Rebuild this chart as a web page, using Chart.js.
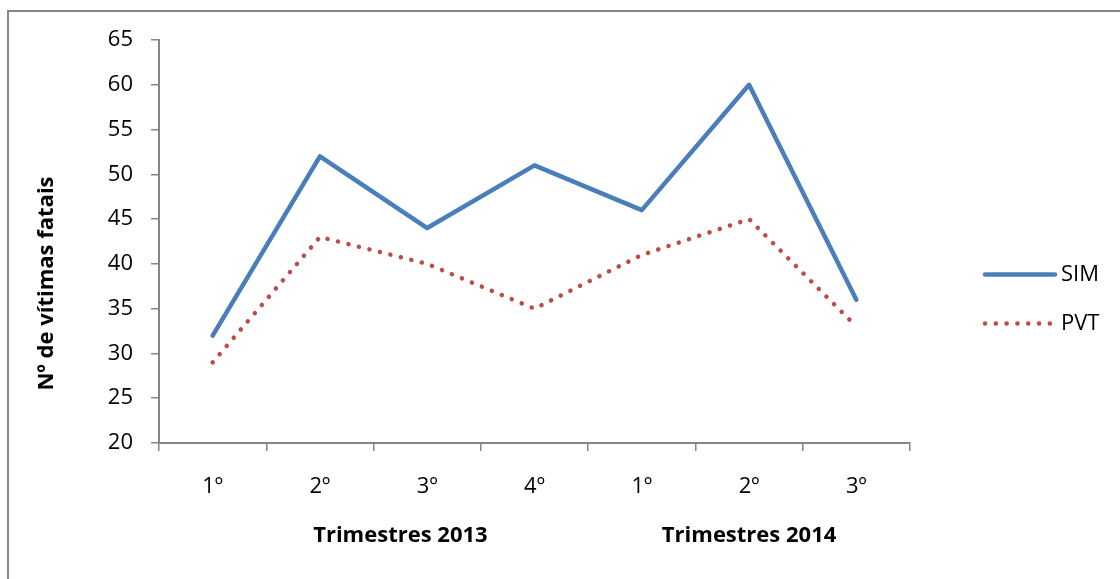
<!DOCTYPE html>
<html>
<head>
<meta charset="utf-8">
<script src="https://cdn.jsdelivr.net/npm/chart.js@4"></script>
<style>
    html, body { margin: 0; padding: 0; background: #fff; overflow: hidden; }
    #wrap { position: relative; width: 1120px; height: 579px; }
    #frame {
        position: absolute; left: 7px; top: 10px; right: -10px; bottom: -10px;
        border-top: 2px solid #868686; border-left: 2px solid #868686;
        pointer-events: none;
    }
</style>
</head>
<body>
<div id="wrap">
    <canvas id="chart"></canvas>
    <div id="frame"></div>
</div>
<script>
const quarters = ["1º", "2º", "3º", "4º", "1º", "2º", "3º"];
const simValues = [32, 52, 44, 51, 46, 60, 36];
const pvtValues = [29, 43, 40, 35, 41, 45, 33];
const groupLabels = ["Trimestres 2013", "Trimestres 2014"];
const groupCenters = [1.75, 5]; // position on the category axis
const yTitle = "Nº de vítimas fatais";

const fontFamily = "'Open Sans', sans-serif";
const fontSize = 22;
const axisGray = "#868686";

// second row of category labels under the quarters
const groupLabelPlugin = {
    id: "groupLabels",
    afterDraw(chart) {
        const ctx = chart.ctx;
        const x = chart.scales.x;
        ctx.save();
        ctx.font = "bold " + fontSize + "px " + fontFamily;
        ctx.fillStyle = "#000";
        ctx.textAlign = "center";
        ctx.textBaseline = "middle";
        groupLabels.forEach((label, i) => {
            ctx.fillText(label, x.getPixelForValue(groupCenters[i]), x.bottom - 43);
        });
        ctx.restore();
    },
};

// y axis title, sits a bit below the middle like the original
const yTitlePlugin = {
    id: "yTitle",
    afterDraw(chart) {
        const ctx = chart.ctx;
        const area = chart.chartArea;
        ctx.save();
        ctx.translate(47, (area.top + area.bottom) / 2 + 42);
        ctx.rotate(-Math.PI / 2);
        ctx.font = "bold " + fontSize + "px " + fontFamily;
        ctx.fillStyle = "#000";
        ctx.textAlign = "center";
        ctx.textBaseline = "middle";
        ctx.fillText(yTitle, 0, 0);
        ctx.restore();
    },
};

// legend on the right, drawn from the datasets
const sideLegendPlugin = {
    id: "sideLegend",
    afterDraw(chart) {
        const ctx = chart.ctx;
        const area = chart.chartArea;
        const midY = (area.top + area.bottom) / 2;
        const x0 = area.right + 75;
        ctx.save();
        chart.data.datasets.forEach((ds, i) => {
            const y = midY + 33 + i * 49;
            ctx.strokeStyle = ds.borderColor;
            ctx.lineWidth = ds.borderWidth;
            ctx.lineCap = ds.borderCapStyle || "butt";
            ctx.setLineDash(ds.borderDash || []);
            ctx.beginPath();
            ctx.moveTo(x0, y);
            ctx.lineTo(x0 + 70, y);
            ctx.stroke();
            ctx.setLineDash([]);
            ctx.fillStyle = "#000";
            ctx.font = fontSize + "px " + fontFamily;
            ctx.textAlign = "left";
            ctx.textBaseline = "middle";
            ctx.fillText(ds.label, x0 + 76, y);
        });
        ctx.restore();
    },
};

const data = {
    labels: quarters,
    datasets: [
        {
            label: "SIM",
            data: simValues,
            borderColor: "#4a7ebb",
            borderWidth: 4.5,
            borderCapStyle: "round",
            borderJoinStyle: "round",
            pointRadius: 0,
            tension: 0,
        },
        {
            label: "PVT",
            data: pvtValues,
            borderColor: "#be4b48",
            borderWidth: 4.5,
            borderCapStyle: "round",
            borderDash: [0.1, 10.7],
            pointRadius: 0,
            tension: 0,
        },
    ],
};

const config = {
    type: "line",
    data: data,
    options: {
        responsive: true,
        maintainAspectRatio: false,
        animation: false,
        layout: {
            padding: { left: 30, top: 40, right: 210, bottom: 0 },
        },
        plugins: {
            legend: { display: false },
            tooltip: { enabled: false },
        },
        scales: {
            x: {
                type: "category",
                offset: true,
                afterFit: (scale) => { scale.height = 136; },
                grid: {
                    offset: true,
                    drawOnChartArea: false,
                    drawTicks: true,
                    tickLength: 8,
                    color: axisGray,
                    lineWidth: 1.5,
                },
                border: { color: axisGray, width: 2 },
                ticks: {
                    color: "#000",
                    padding: 23,
                    font: { family: fontFamily, size: fontSize },
                },
            },
            y: {
                min: 20,
                max: 65,
                afterFit: (scale) => { scale.width = 129; },
                grid: {
                    drawOnChartArea: false,
                    drawTicks: true,
                    tickLength: 8,
                    color: axisGray,
                    lineWidth: 1.5,
                },
                border: { color: axisGray, width: 2 },
                ticks: {
                    stepSize: 5,
                    color: "#000",
                    padding: 18,
                    font: { family: fontFamily, size: fontSize },
                },
            },
        },
    },
    plugins: [groupLabelPlugin, yTitlePlugin, sideLegendPlugin],
};

new Chart(document.getElementById("chart"), config);
</script>
</body>
</html>
